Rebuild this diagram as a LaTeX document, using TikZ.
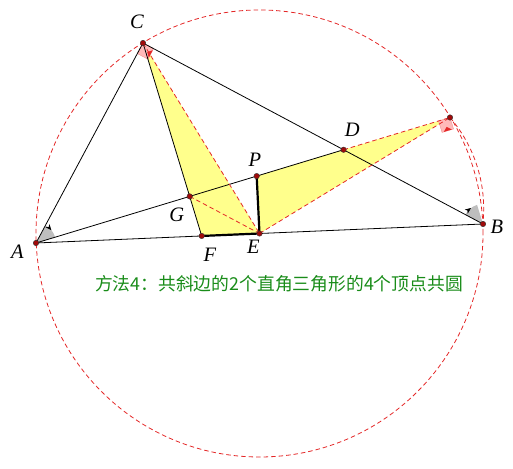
\documentclass[tikz,border=0pt]{standalone}
\usepackage{fontspec}
\setmainfont{Liberation Serif}
\newfontfamily\cjk{Noto Sans CJK SC}
\usetikzlibrary{arrows.meta,calc}
\definecolor{dred}{RGB}{228,40,40}
\definecolor{ptred}{RGB}{160,10,10}
\definecolor{yfill}{RGB}{255,255,140}
\definecolor{pinkfill}{RGB}{255,185,185}
\definecolor{tgreen}{RGB}{25,140,25}
\definecolor{wgray}{RGB}{190,190,190}
\begin{document}
\begin{tikzpicture}[x=1pt,y=1pt,
  thinline/.style={line width=0.8pt, black},
  thickseg/.style={line width=2.2pt, black},
  reddash/.style={dred, line width=0.8pt, dash pattern=on 4.5pt off 3pt},
  ptdot/.style={circle, fill=ptred, draw=black!80, line width=0.4pt, inner sep=0pt, minimum size=5.5pt},
  lbl/.style={font=\fontsize{20.5}{20.5}\selectfont\itshape, inner sep=0pt},
  rmark/.style={fill=pinkfill, draw=dred!50, line width=0.4pt},
  arrowtip/.style={-{Stealth[length=6pt,width=5pt]}, line width=0.5pt, black}]
\useasboundingbox (0,0) rectangle (513,468);
% points
\coordinate (A) at (36,225);
\coordinate (B) at (483,244);
\coordinate (C) at (143,425);
\coordinate (Q) at (450,350.5);
\coordinate (E) at ($(A)!0.5!(B)$);
\coordinate (F) at ($(A)!0.3707!(B)$);
\coordinate (P) at ($(A)!0.533!(Q)$);
\coordinate (D) at (intersection of A--Q and C--B);
\coordinate (G) at (intersection of A--Q and C--F);
% yellow regions
\fill[yfill] (C) -- (F) -- (E) -- cycle;
\fill[yfill] (P) -- (E) -- (Q) -- cycle;
% circle and arc
\draw[reddash] (E) circle[radius=223.5];
\draw[reddash] (Q) arc[start angle=40.58, end angle=-6.44, radius=140];
% angle wedges
\fill[wgray] (A) -- ++(61.85:20) arc[start angle=61.85, end angle=16.86, radius=20] -- cycle;
\draw[arrowtip] ($(A)+(52:20)$) arc[start angle=52, end angle=40, radius=20];
\fill[wgray] (B) -- ++(151.97:20) arc[start angle=151.97, end angle=107.22, radius=20] -- cycle;
\draw[arrowtip] ($(B)+(140:20)$) arc[start angle=140, end angle=127, radius=20];
% right-angle marks
\coordinate (c1) at ($(C)!12pt!(A)$);
\coordinate (c2) at ($(C)!12pt!(B)$);
\coordinate (c3) at ($(c1)+(c2)-(C)$);
\fill[rmark] (C) -- (c1) -- (c3) -- (c2) -- cycle;
\coordinate (cm) at ($(c2)!0.5!(c3)$);
\coordinate (cu) at ($(C)!4pt!(c2)$);
\coordinate (ci) at ($(cm)-(cu)+(C)$);
\fill[dred] ($(c2)!0.15!(c3)$) -- ($(c2)!0.85!(c3)$) -- (ci) -- cycle;
\coordinate (q1) at ($(Q)!12pt!(A)$);
\coordinate (q2) at ($(Q)!12pt!(B)$);
\coordinate (q3) at ($(q1)+(q2)-(Q)$);
\fill[rmark] (Q) -- (q1) -- (q3) -- (q2) -- cycle;
\coordinate (qm) at ($(q2)!0.5!(q3)$);
\coordinate (qu) at ($(Q)!4pt!(q2)$);
\coordinate (qi) at ($(qm)-(qu)+(Q)$);
\fill[dred] ($(q2)!0.15!(q3)$) -- ($(q2)!0.85!(q3)$) -- (qi) -- cycle;
% lines
\draw[thinline] (A) -- (C) -- (B) -- cycle;
\draw[thinline] (C) -- (F);
\draw[thinline] (A) -- (D);
\draw[reddash] (C) -- (E);
\draw[reddash] (G) -- (E);
\draw[reddash] (E) -- (Q);
\draw[reddash] (D) -- (Q);
\draw[thickseg] (F) -- (E);
\draw[thickseg] (P) -- (E);
% dots
\foreach \p in {A,B,C,D,P,G,F,E,Q} \node[ptdot] (d\p) at (\p) {};
% labels
\node[lbl] (lA) at (17.3,216) {A};
\node[lbl] (lB) at (497,240.7) {B};
\node[lbl] (lC) at (137,446) {C};
\node[lbl] (lD) at (352.3,338) {D};
\node[lbl] (lP) at (255,308.7) {P};
\node[lbl] (lG) at (176.7,253) {G};
\node[lbl] (lF) at (210,213) {F};
\node[lbl] (lE) at (253.3,221.3) {E};
\node[font=\cjk\fontsize{17.8}{17.8}\selectfont, text=tgreen, inner sep=0pt] (cap) at (279,184) {方法4：共斜边的2个直角三角形的4个顶点共圆};
\end{tikzpicture}
\end{document}
